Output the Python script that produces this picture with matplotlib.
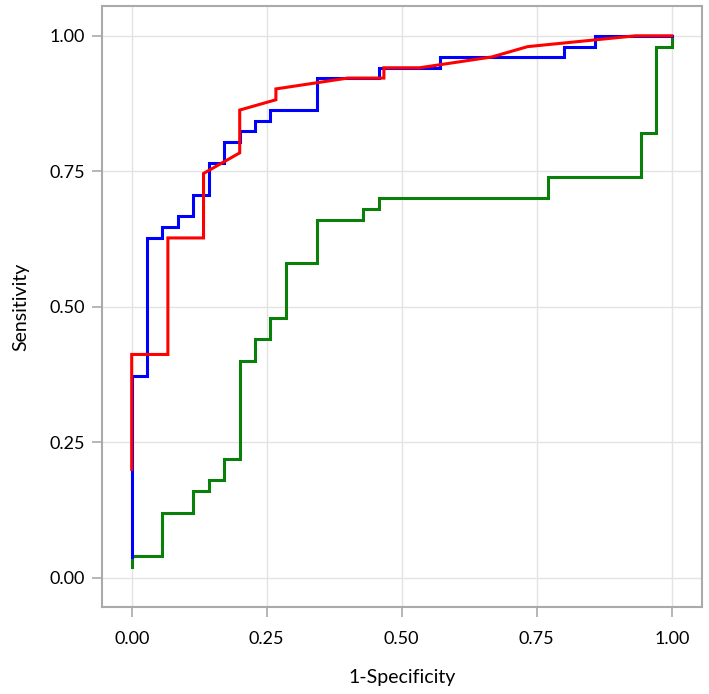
import matplotlib
matplotlib.use("Agg")
import matplotlib.pyplot as plt

plt.rcParams['font.family'] = ['Lato', 'DejaVu Sans']

# ROC corner points (1-specificity, sensitivity)
blue_fpr = [0, 0, 0.029, 0.029, 0.057, 0.057, 0.086, 0.086, 0.114, 0.114, 0.143, 0.143,
            0.171, 0.171, 0.2, 0.2, 0.229, 0.229, 0.257, 0.257, 0.343, 0.343,
            0.457, 0.457, 0.571, 0.571, 0.8, 0.8, 0.857, 0.857, 1.0]
blue_tpr = [0.039, 0.373, 0.373, 0.627, 0.627, 0.647, 0.647, 0.667, 0.667, 0.706, 0.706, 0.765,
            0.765, 0.804, 0.804, 0.824, 0.824, 0.843, 0.843, 0.863, 0.863, 0.922,
            0.922, 0.941, 0.941, 0.961, 0.961, 0.98, 0.98, 1.0, 1.0]

red_fpr = [0, 0, 0.067, 0.067, 0.133, 0.133, 0.2, 0.2, 0.267, 0.267, 0.4, 0.467, 0.467,
           0.533, 0.667, 0.733, 0.933, 1.0]
red_tpr = [0.2, 0.412, 0.412, 0.627, 0.627, 0.746, 0.784, 0.863, 0.882, 0.902, 0.922, 0.922, 0.941,
           0.941, 0.961, 0.98, 1.0, 1.0]

green_fpr = [0, 0, 0.057, 0.057, 0.114, 0.114, 0.143, 0.143, 0.171, 0.171, 0.2, 0.2,
             0.229, 0.229, 0.257, 0.257, 0.286, 0.286, 0.343, 0.343, 0.429, 0.429,
             0.457, 0.457, 0.771, 0.771, 0.943, 0.943, 0.971, 0.971, 1.0, 1.0]
green_tpr = [0.02, 0.04, 0.04, 0.12, 0.12, 0.16, 0.16, 0.18, 0.18, 0.22, 0.22, 0.4,
             0.4, 0.44, 0.44, 0.48, 0.48, 0.58, 0.58, 0.66, 0.66, 0.68,
             0.68, 0.7, 0.7, 0.74, 0.74, 0.82, 0.82, 0.98, 0.98, 1.0]

ticks = [0, 0.25, 0.5, 0.75, 1.0]
tick_labels = ["0.00", "0.25", "0.50", "0.75", "1.00"]

fig = plt.figure(figsize=(7.09, 6.94), dpi=100)
ax = fig.add_axes([102 / 709, 1 - 607 / 694, 600 / 709, 601 / 694])

lw = 2.2
ax.plot(green_fpr, green_tpr, color='#0a800a', lw=lw, solid_joinstyle='miter')
ax.plot(blue_fpr, blue_tpr, color='#0000ff', lw=lw, solid_joinstyle='miter')
ax.plot(red_fpr, red_tpr, color='#ff0000', lw=lw, solid_joinstyle='miter')

ax.set_xlim(-0.055, 1.056)
ax.set_ylim(-0.054, 1.055)
ax.set_xticks(ticks)
ax.set_xticklabels(tick_labels)
ax.set_yticks(ticks)
ax.set_yticklabels(tick_labels)

ax.grid(True, color='#e3e3e3', lw=1.0)
ax.set_axisbelow(True)
for s in ax.spines.values():
    s.set_color('#aaaaaa')
    s.set_linewidth(1.5)
ax.tick_params(axis='both', length=7, width=1.2, color='#aaaaaa', labelsize=13,
               labelcolor='black')
ax.tick_params(axis='x', pad=10)
ax.tick_params(axis='y', pad=5)

ax.set_xlabel("1-Specificity", fontsize=14, labelpad=16)
ax.set_ylabel("Sensitivity", fontsize=14, labelpad=15)

fig.savefig("out.png", dpi=100)
